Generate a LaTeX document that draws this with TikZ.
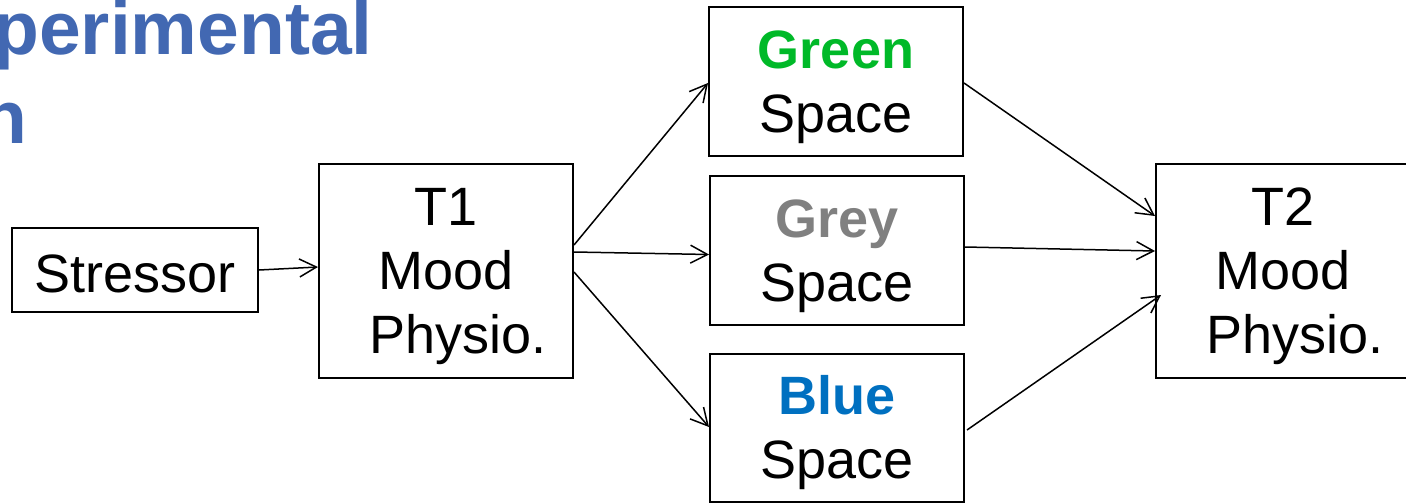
\documentclass[tikz,border=0pt]{standalone}
\usepackage{fontspec}
\setmainfont{Liberation Sans}
\usetikzlibrary{arrows.meta,calc}
\definecolor{titleblue}{RGB}{66,104,178}
\definecolor{gspace}{RGB}{0,185,40}
\definecolor{greyspace}{RGB}{128,128,128}
\definecolor{bspace}{RGB}{0,112,192}
% invisible strut that lowers the text block inside a box
\newcommand{\topstrut}[1][0.9em]{\rule{0pt}{#1}}
\begin{document}
\begin{tikzpicture}[x=0.5pt,y=-0.5pt,
  box/.style={draw=black, line width=1pt, minimum width=127pt, inner sep=0pt,
    align=center, font=\fontsize{27}{32}\selectfont},
  link/.style={line width=0.75pt,
    -{Straight Barb[length=8.5pt,width=9pt,line width=0.75pt]}},
  title/.style={text=titleblue, font=\fontsize{37.5}{44}\selectfont\bfseries,
    anchor=base west, inner sep=0pt}]
\useasboundingbox (0,0) rectangle (1406,503);

% heading, running off the left edge
\node[title] (ttl1) at (-7,54) {perimental};
\node[title] (ttl2) at (-19,143) {n};

% boxes
\node[box, minimum width=123pt, minimum height=42pt] (stress) at (135,270) {\topstrut[0.85em]Stressor};
\node[box, minimum height=107pt] (t1) at (446,271) {\topstrut T1\\Mood\\\hspace{0.45em}Physio.};
\node[box, minimum height=74.5pt] (green) at (836,81.5) {\topstrut\textbf{\textcolor{gspace}{Green}}\\Space};
\node[box, minimum height=74.5pt] (grey) at (837,250.5) {\topstrut\textbf{\textcolor{greyspace}{Grey}}\\Space};
\node[box, minimum height=74pt] (blue) at (837,428) {\topstrut\textbf{\textcolor{bspace}{Blue}}\\Space};
\node[box, minimum height=107pt] (t2) at (1283,271) {\topstrut T2\\Mood\\\hspace{0.45em}Physio.};

% connectors
\draw[link] (stress.east) -- ($(t1.west)+(0,-4)$);
\draw[link] ($(t1.east)+(0,-26)$) -- ($(green.west)+(0,1.5)$);
\draw[link] ($(t1.east)+(0,-19)$) -- ($(grey.west)+(0,4)$);
\draw[link] ($(t1.east)+(0,1)$) -- ($(blue.west)+(0,-1)$);
\draw[link] ($(green.east)+(0,1.5)$) -- ($(t2.west)+(0,-55)$);
\draw[link] ($(grey.east)+(0,-3.5)$) -- ($(t2.west)+(0,-20)$);
\draw[link] ($(blue.east)+(2,2)$) -- ($(t2.west)+(6,24)$);
\end{tikzpicture}
\end{document}
